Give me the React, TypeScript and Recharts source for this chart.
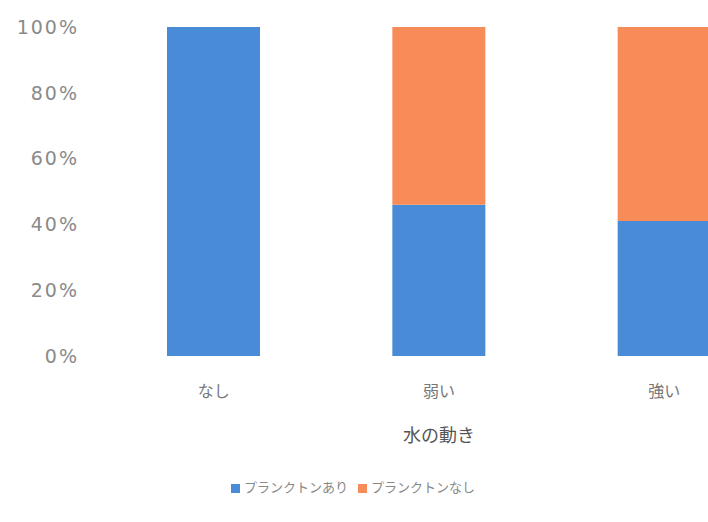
import { Bar, BarChart, Legend, XAxis, YAxis } from "recharts";

const categories = ["なし", "弱い", "強い"];
const withPlankton = [100, 46, 41];
const withoutPlankton = [0, 54, 59];
const yTicks = [0, 20, 40, 60, 80, 100];

const rows = categories.map((name, i) => ({ name, ari: withPlankton[i], nashi: withoutPlankton[i] }));

const jp = '"Noto Sans CJK JP", sans-serif';

export default function App() {
  return (
    <div style={{ position: "absolute", left: 0, top: 0, width: 708, height: 522, overflow: "hidden", background: "#fff" }}>
      <BarChart width={777} height={522} data={rows} margin={{ top: 27, right: 0, bottom: 0, left: 0 }} barSize={93}>
        <XAxis
          dataKey="name"
          axisLine={false}
          tickLine={false}
          tickSize={0}
          tickMargin={30}
          height={147}
          tick={{ fontSize: 16, fill: "#777", fontFamily: jp }}
          label={{ value: "水の動き", position: "insideTop", offset: 73, fontSize: 18, fill: "#555", fontFamily: jp }}
        />
        <YAxis
          width={101}
          domain={[0, 100]}
          ticks={yTicks}
          axisLine={false}
          tickLine={false}
          tickSize={0}
          tickMargin={22}
          tickFormatter={(v: number) => `${v}%`}
          tick={{ fontSize: 19, fill: "#8a8a8a", fontFamily: '"DejaVu Sans", sans-serif', letterSpacing: 2 }}
        />
        <Legend
          iconType="square"
          iconSize={9}
          wrapperStyle={{ top: 477, left: 218, width: 280, fontSize: 13, fontFamily: jp, color: "#888" }}
          formatter={(value: string) => <span style={{ color: "#888" }}>{value}</span>}
        />
        <Bar dataKey="ari" name="プランクトンあり" stackId="a" fill="#4a8bd7" isAnimationActive={false} />
        <Bar dataKey="nashi" name="プランクトンなし" stackId="a" fill="#f88c58" isAnimationActive={false} />
      </BarChart>
    </div>
  );
}
